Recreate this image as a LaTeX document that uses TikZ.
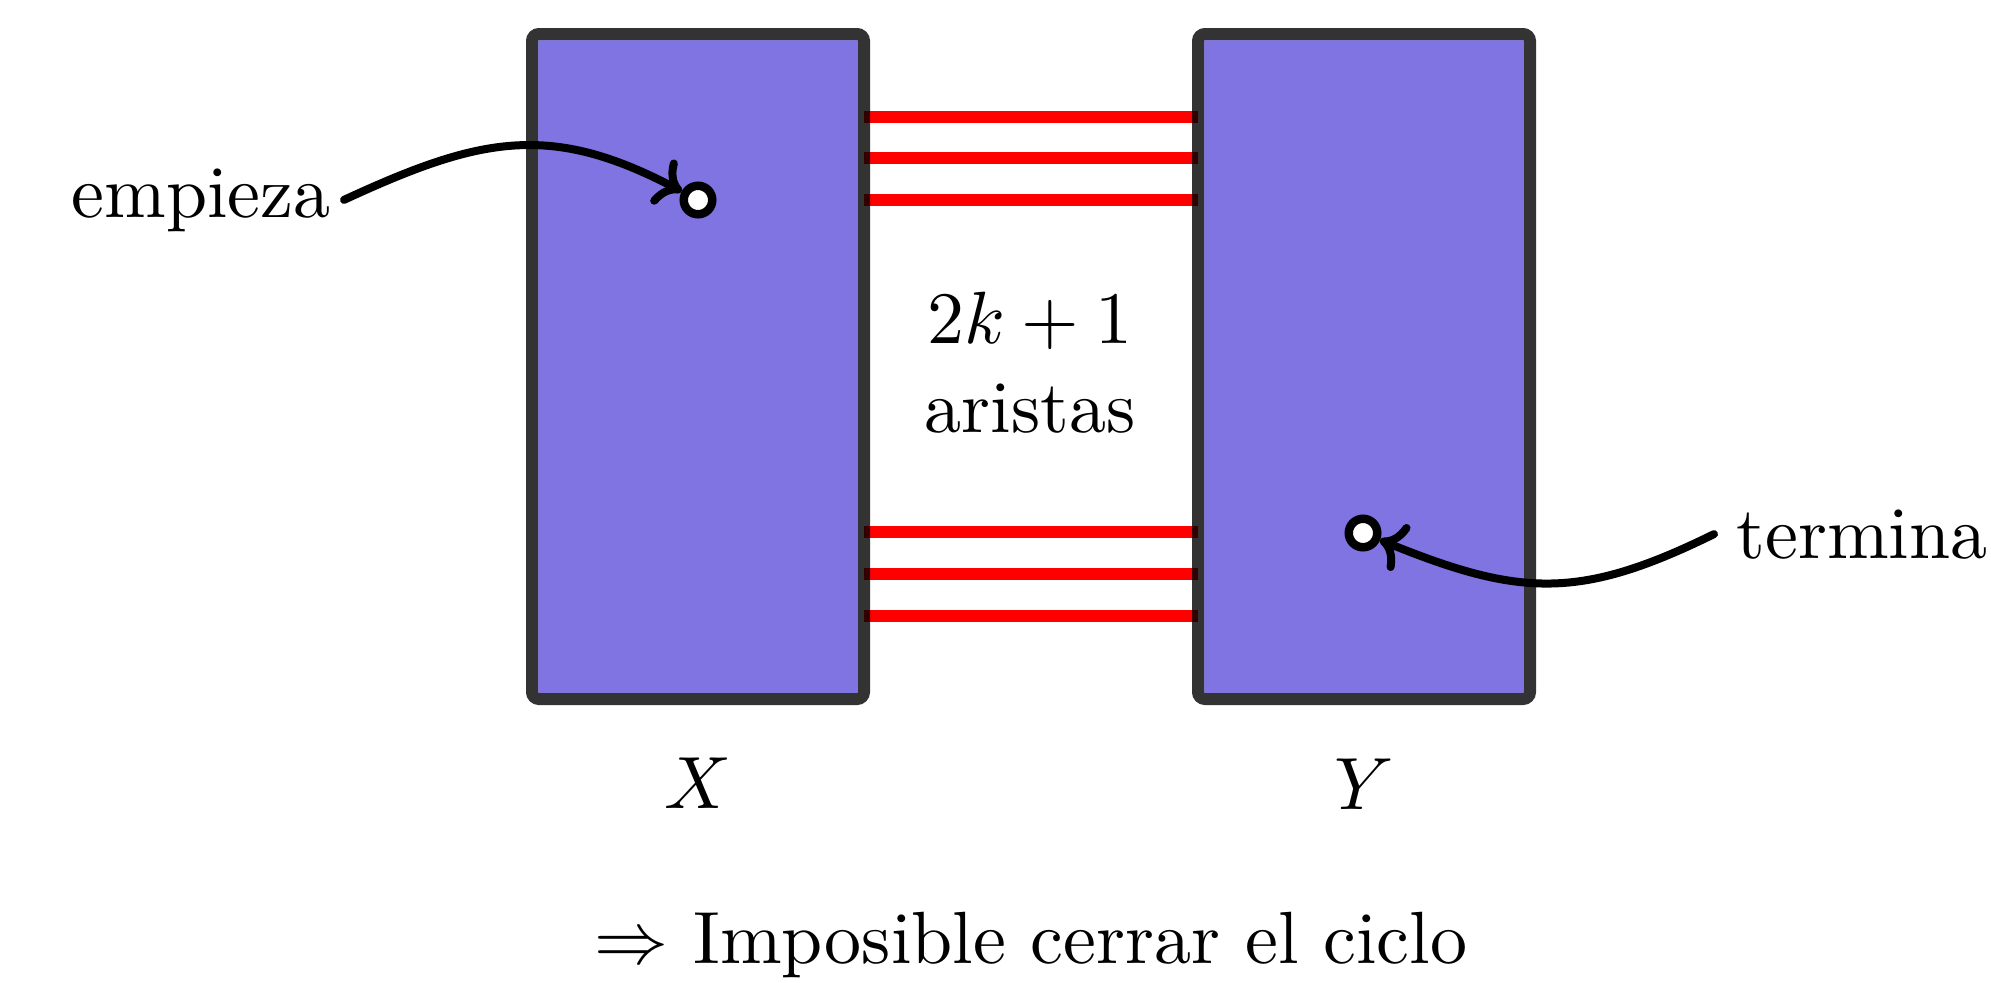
\documentclass[tikz,border=0pt]{standalone}
\usetikzlibrary{arrows.meta}
\definecolor{boxfill}{RGB}{128,115,226}
\begin{document}
\begin{tikzpicture}[x=0.5pt,y=-0.5pt,
  box/.style={rectangle, rounded corners=3.5pt, minimum width=166pt, minimum height=332.5pt,
    fill=boxfill, draw=white, line width=6pt, inner sep=0pt, outer sep=0pt},
  boxline/.style={draw=black, draw opacity=0.8, line width=6pt, rounded corners=3.5pt},
  edgeline/.style={draw=red, line width=6pt},
  endpt/.style={circle, draw=black, fill=white, line width=4.25pt, minimum size=14.25pt, inner sep=0pt},
  lbl/.style={scale=3.7, transform shape, inner sep=0pt},
  pointer/.style={draw=black, line width=4pt, line cap=round, -{To[scale=1.15]}}
]
\useasboundingbox (0,0) rectangle (1991,982);
\node[box] (X) at (698,366.5) {};
\node[box] (Y) at (1364,366.5) {};
\foreach \yy in {116.5,158,199.5,532,574,616}
  \draw[edgeline] (X.east |- 0,\yy) -- (Y.west |- 0,\yy);
\draw[boxline] (X.south west) rectangle (X.north east);
\draw[boxline] (Y.south west) rectangle (Y.north east);
\node[endpt] (c1) at (698,200) {};
\node[endpt] (c2) at (1363,533) {};
\node[lbl, anchor=base east, inner xsep=1.62pt] (emp) at (344,217) {empieza};
\node[lbl, anchor=base west, inner xsep=2.84pt] (term) at (1714,558) {termina};
\draw[pointer] (emp.east) .. controls (480,137) and (550,122) .. (c1);
\draw[pointer] (term.west) .. controls (1580,600) and (1520,597) .. (c2);
\node[lbl, anchor=base] (xl) at (698,808) {$X$};
\node[lbl, anchor=base] (yl) at (1364,809) {$Y$};
\node[lbl, anchor=base] (k1) at (1030,343) {$2k+1$};
\node[lbl, anchor=base] (k2) at (1030,432) {aristas};
\node[lbl, anchor=base] (concl) at (1031,963) {$\Rightarrow$ Imposible cerrar el ciclo};
\end{tikzpicture}
\end{document}
